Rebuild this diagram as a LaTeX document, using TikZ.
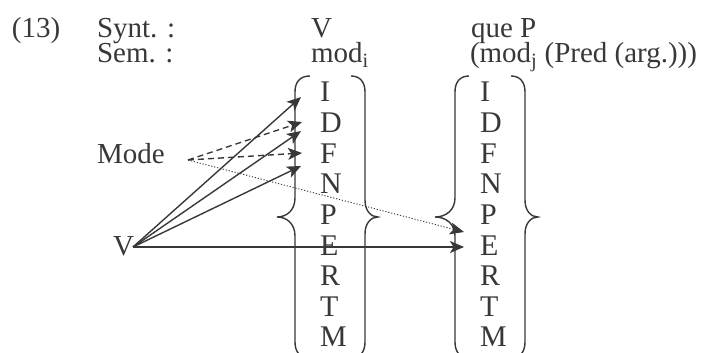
\documentclass[tikz,border=0pt]{standalone}
\usepackage{fontspec}
\setmainfont{Liberation Serif}
\usetikzlibrary{arrows.meta}
\definecolor{ink}{HTML}{383838}
\begin{document}
\begin{tikzpicture}[x=1pt,y=-1pt,
  txt/.style={anchor=base west,inner sep=0pt,outer sep=0pt,text=ink,font=\fontsize{29}{30}\selectfont},
  lett/.style={txt,font=\fontsize{30}{31}\selectfont},
  bracestroke/.style={draw=ink,line width=1.4pt},
  arr/.style={draw=ink,line width=1.4pt,-{Stealth[length=14pt,width=12pt,inset=3.5pt]}},
  darr/.style={arr,dash pattern=on 6pt off 4pt},
  dotarr/.style={arr,line width=0.9pt,dash pattern=on 1.2pt off 1.8pt}]
\useasboundingbox (0,0) rectangle (705,353);
\clip (0,0) rectangle (705,353);
% header texts
\node[txt] (num) at (12,38) {(13)};
\node[txt] (synt) at (97,38) {Synt. :};
\node[txt] (vtop) at (311,38) {V};
\node[txt] (queP) at (471,38) {que P};
\node[txt] (sem) at (97,63) {Sem. :};
\node[txt] (modi) at (311,63) {mod\textsubscript{i}};
\node[txt] (modj) at (470,63) {(mod\textsubscript{j} (Pred (arg.)))};
% left labels
\node[txt] (mode) at (97,163) {Mode};
\node[txt] (vleft) at (113,255) {V};
% columns of letters
\foreach \l [count=\k from 0] in {I,D,F,N,P,E,R,T,M} {
  \node[lett] (a\k) at (320,{102+30.6*\k}) {\l};
  \node[lett] (b\k) at (480,{102+30.6*\k}) {\l};
}
% braces column 1
\draw[bracestroke] (310,76) .. controls (300,76) and (295,82) .. (295,92) -- (295,198)
  .. controls (295,210) and (287,217) .. (277,217) .. controls (287,217) and (295,224) .. (295,236)
  -- (295,342) .. controls (295,352) and (300,358) .. (310,358);
\draw[bracestroke] (351,76) .. controls (360,76) and (365,82) .. (365,92) -- (365,200)
  .. controls (365,211) and (371,217) .. (378,217) .. controls (371,217) and (365,223) .. (365,234)
  -- (365,342) .. controls (365,352) and (360,358) .. (351,358);
% braces column 2
\draw[bracestroke] (469,76) .. controls (460,76) and (455,82) .. (455,92) -- (455,198)
  .. controls (455,210) and (446,217) .. (435,217) .. controls (446,217) and (455,224) .. (455,236)
  -- (455,342) .. controls (455,352) and (460,358) .. (469,358);
\draw[bracestroke] (511,76) .. controls (520,76) and (525,82) .. (525,92) -- (525,200)
  .. controls (525,211) and (531,217) .. (538,217) .. controls (531,217) and (525,223) .. (525,234)
  -- (525,342) .. controls (525,352) and (520,358) .. (511,358);
% connector endpoints
\coordinate (mo) at (188,160);
\coordinate (vo) at (133,247);
\coordinate (tI) at (301,97);
\coordinate (tDF) at (301,131);
\coordinate (tFN) at (301,166);
\coordinate (tD) at (302,122);
\coordinate (tF) at (302,153);
\coordinate (tP) at (464,232);
\coordinate (tE) at (464,247);
% connectors
\draw[dotarr] (mo) -- (tP);
\draw[darr] (mo) -- (tD);
\draw[darr] (mo) -- (tF);
\draw[arr] (vo) -- (tI);
\draw[arr] (vo) -- (tDF);
\draw[arr] (vo) -- (tFN);
\draw[arr] (vo) -- (tE);
\end{tikzpicture}
\end{document}
